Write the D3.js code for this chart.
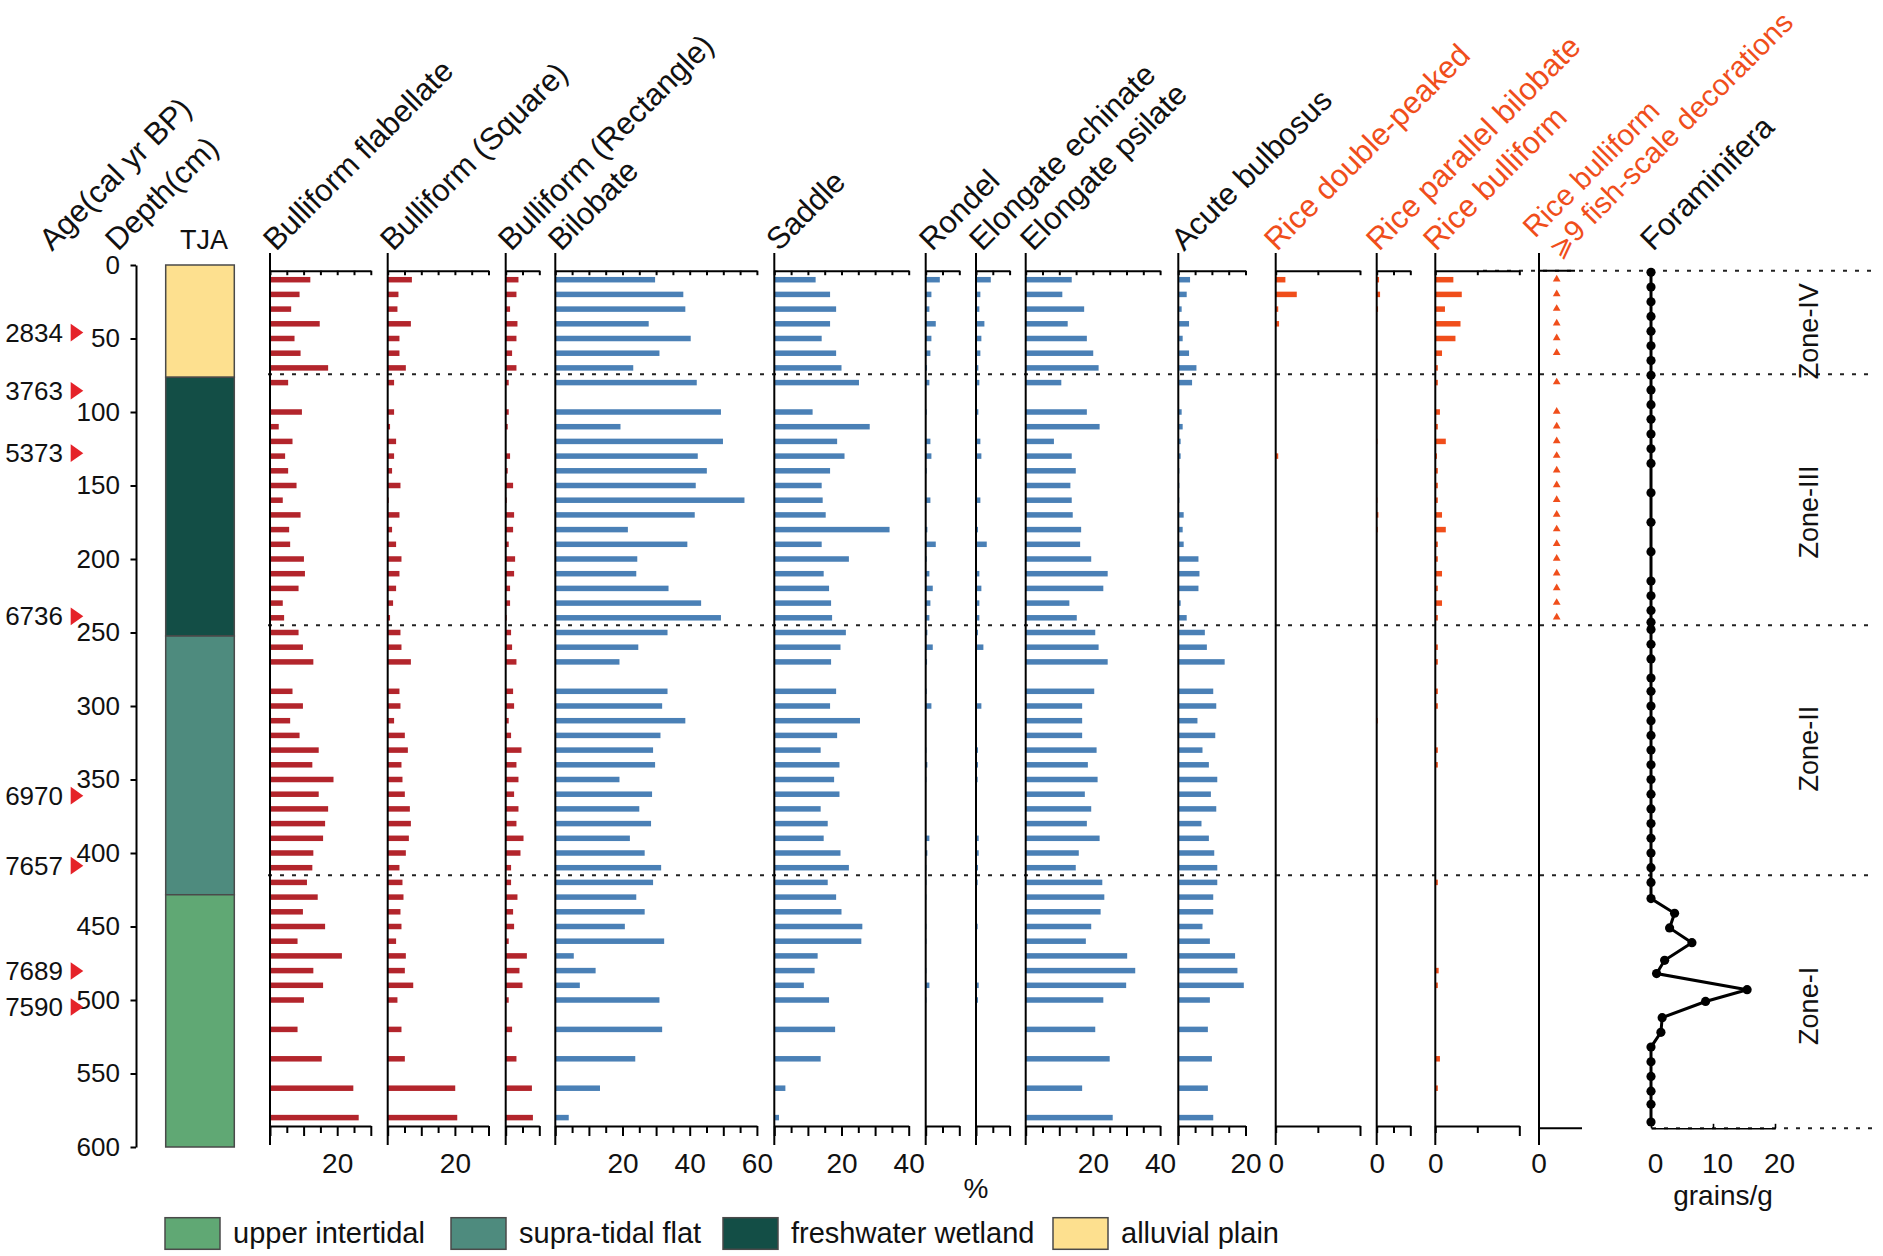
<!DOCTYPE html>
<html><head><meta charset="utf-8">
<script src="https://cdn.jsdelivr.net/npm/d3@7"></script>
<style>html,body{margin:0;padding:0;background:#fff}svg{display:block}</style>
</head><body><svg id="c"></svg>
<script>
// ---------------- DATA ----------------
const depths = [10,20,30,40,50,60,70,80,
 100,110,120,130,140,150,160,170,180,190,200,210,220,230,240,250,260,270,
 290,300,310,320,330,340,350,360,370,380,390,400,410,420,430,440,450,460,470,480,490,500,
 520,540,560,580];
const bulliformFlabellate = [12.0,8.8,6.3,14.8,7.3,9.1,17.3,5.4,
 9.5,2.6,6.7,4.5,5.4,7.9,3.8,9.1,5.7,6.0,10.1,10.4,8.5,3.8,4.2,8.5,9.8,12.9,
 6.7,9.8,6.0,8.8,14.5,12.6,18.9,14.5,17.3,16.4,15.8,12.9,12.6,11.0,14.2,9.8,16.4,8.2,21.4,12.9,15.8,10.1,
 8.2,15.4,24.8,26.4];
const bulliformSquare = [7.2,3.2,2.9,6.9,3.5,3.5,5.4,1.9,
 1.9,0.7,2.5,1.9,1.3,3.8,0.3,3.5,1.3,2.5,4.1,3.5,2.5,1.6,0.7,3.8,4.1,6.9,
 3.5,3.8,1.9,5.1,6.0,4.1,4.4,5.1,6.6,6.9,6.3,5.4,3.5,4.4,4.7,3.8,4.1,2.5,5.4,5.1,7.6,2.9,
 4.1,5.1,20.1,20.7];
const bulliformRectangle = [3.8,3.2,1.3,3.5,3.2,1.9,3.2,0.9,
 0.9,0.6,0,1.3,0.6,2.2,0.3,2.5,2.2,0.9,2.8,2.5,1.3,1.3,0.3,1.6,1.9,3.2,
 2.2,2.5,0.9,1.6,4.7,3.2,3.8,2.5,3.8,3.2,5.3,4.4,1.6,1.6,3.5,2.2,2.5,0.9,6.3,4.1,5.0,0.9,
 1.9,3.2,7.8,8.1];
const bilobate = [29.7,38.1,38.7,27.8,40.3,31.0,23.2,42.1,
 49.3,19.4,49.9,42.4,45.1,41.8,56.3,41.5,21.6,39.3,24.4,24.1,33.7,43.4,49.3,33.4,24.7,19.1,
 33.4,31.8,38.7,31.3,29.1,29.7,19.1,28.8,25.0,28.5,22.2,26.6,31.5,29.1,24.1,26.6,20.7,32.4,5.5,12.0,7.3,31.0,
 31.8,23.8,13.3,4.0];
const saddle = [12.3,16.6,18.4,16.6,14.1,18.4,20.0,25.2,
 11.4,28.4,18.7,20.9,16.6,14.1,14.4,15.3,34.3,14.1,22.2,14.7,16.3,16.9,17.2,21.3,19.7,16.9,
 18.4,16.6,25.5,18.7,13.8,19.4,17.8,19.4,13.8,15.9,14.7,19.7,22.2,15.9,18.4,20.0,26.2,25.9,12.9,12.0,8.8,16.3,
 18.1,13.8,3.3,1.4];
const rondel = [4.2,1.7,1.1,3.0,1.7,1.4,0.4,1.1,
 0.3,0,1.4,1.7,0.3,0,1.4,0,0.5,3.0,0.3,1.1,2.1,1.4,1.1,0.5,2.1,0.4,
 0.3,1.7,0,0,0.2,0.5,0.2,0,0,0,1.1,0.5,0.2,0.2,0.2,0,0.2,0.2,0,0.2,1.1,0.2,
 0,0,0,0];
const elongateEchinate = [4.4,1.3,1.0,2.5,1.6,1.3,0.7,1.0,
 0.7,0,1.3,1.6,0,0,1.3,0,0.6,3.2,0.3,1.0,1.6,1.0,1.0,0.6,2.2,0.2,
 0.3,1.6,0.2,0.2,0.6,0.6,0.5,0,0,0,0.8,0.8,0.6,0.5,0.2,0,0.5,0.2,0,0.2,0.8,0.6,
 0,0,0,0];
const elongatePsilate = [13.7,10.9,17.4,12.5,18.2,20.1,21.7,10.6,
 18.2,22.0,8.4,13.7,14.9,13.3,13.7,14.0,16.5,16.2,19.5,24.4,23.1,13.0,15.2,20.7,21.7,24.4,
 20.4,16.8,16.8,16.8,21.1,18.5,21.4,17.6,19.5,18.2,22.0,15.8,14.9,22.8,23.4,22.3,19.5,17.9,30.2,32.6,29.9,23.1,
 20.7,25.0,16.8,25.9];
const acuteBulbosus = [3.5,2.5,1.0,3.2,1.3,3.2,5.4,4.1,
 1.0,1.3,0.7,0.7,0.3,0.3,0.3,1.6,1.3,1.6,6.0,6.3,6.0,0.7,2.5,7.9,8.5,13.8,
 10.4,11.3,5.7,11.0,7.2,9.1,11.6,9.7,11.3,6.9,9.1,10.7,11.6,11.6,10.4,10.4,7.2,9.4,16.9,17.6,19.5,9.4,
 8.8,10.0,8.8,10.4];
const riceDoublePeaked = [0.23,0.50,0.06,0.08,0,0,0,0,
 0,0,0,0.06,0,0,0,0,0,0,0,0,0,0,0,0,0,0,
 0,0,0,0,0,0,0,0,0,0,0,0,0,0,0,0,0,0,0,0,0,0,
 0,0,0,0];
const riceParallelBilobate = [0.7,1.0,0.4,0,0,0,0,0,
 0,0,0.2,0,0,0,0.2,0.5,0.3,0,0,0,0,0,0,0,0,0,
 0,0,0.3,0,0,0,0,0,0,0,0,0,0,0,0,0,0,0,0,0,0,0,
 0,0,0,0];
const riceBulliform = [0.43,0.63,0.23,0.60,0.48,0.16,0.06,0.06,
 0.11,0.06,0.25,0.04,0.06,0.06,0.06,0.16,0.25,0.06,0.06,0.16,0.06,0.16,0.06,0,0.06,0.06,
 0.06,0.06,0,0,0.06,0.06,0,0,0,0,0,0,0,0.06,0,0,0,0,0,0.08,0.06,0,
 0,0.11,0.06,0];
const fishScaleDepths = [10,20,30,40,50,60,80,100,110,120,130,140,150,160,170,180,190,200,210,220,230,240];
const foramDepths = [5,15,25,35,45,55,65,75,85,95,105,115,125,135,155,175,195,215,225,235,243,248,258,268,281,290,300,
 310,320,330,340,350,360,370,380,390,400,410,420,431,441,451,461,473,482,493,501,512,522,532,542,552,562,571,583];
const foramValues = [0,0,0,0,0,0,0,0,0,0,0,0,0,0,0,0,0,0,0,0,0,0,0,0,0,0,0,
 0,0,0,0,0,0,0,0,0,0,0,0,0,3.8,3.0,6.6,2.2,0.9,15.5,8.8,1.8,1.6,0,0,0,0,0,0];
const ageLabels = ["2834","3763","5373","6736","6970","7657","7689","7590"];
const ageDepths = [46,85.5,128,239,361,408.6,480.3,504.8];
const depthTicks = [0,50,100,150,200,250,300,350,400,450,500,550,600];
const faciesNames = ["alluvial plain","freshwater wetland","supra-tidal flat","upper intertidal"];
const faciesTop = [0,76.4,252.4,428.4];
const faciesBottom = [76.4,252.4,428.4,600];
const legendOrder = ["upper intertidal","supra-tidal flat","freshwater wetland","alluvial plain"];
const zoneBoundaries = [74.4,245.1,415.2];
const zoneNames = ["Zone-IV","Zone-III","Zone-II","Zone-I"];
const zoneCenters = [45,168,329,504];

// ---------------- STYLE / LAYOUT ----------------
const W=1883,H=1256;
const RED="#B3252C", BLUE="#4A80B6", ORANGE="#F04E1B", TXT="#111";
const faciesColor = {"alluvial plain":"#FDE08F","freshwater wetland":"#134E46","supra-tidal flat":"#4E8B7E","upper intertidal":"#60A874"};
const FONT="'Liberation Sans', Arial, Helvetica, sans-serif";
const svg=d3.select("#c").attr("width",W).attr("height",H).attr("viewBox",`0 0 ${W} ${H}`)
  .style("font-family",FONT);
svg.append("rect").attr("width",W).attr("height",H).attr("fill","#fff");

const y=d3.scaleLinear().domain([0,600]).range([265,1147]);
const TOPY=270.7, BOTY=1126, VTOP=253, VBOT=1145, PX=3.36, BARH=5.5;
const HY=252, HDX=3;

const panels=[
 {name:"Bulliform flabellate", hx:273, x0:270, max:30, step:5, labels:[20], color:RED, values:bulliformFlabellate},
 {name:"Bulliform (Square)", hx:390, x0:387.7, max:30, step:5, labels:[20], color:RED, values:bulliformSquare},
 {name:"Bulliform (Rectangle)", hx:508, x0:505.7, max:10, step:5, labels:[], color:RED, values:bulliformRectangle},
 {name:"Bilobate", hx:558, x0:555.3, max:60, step:5, labels:[20,40,60], color:BLUE, values:bilobate},
 {name:"Saddle", hx:776, x0:774.3, max:40, step:5, labels:[20,40], color:BLUE, values:saddle},
 {name:"Rondel", hx:929, x0:925.7, max:10, step:5, labels:[], color:BLUE, values:rondel},
 {name:"Elongate echinate", hx:979, x0:976, max:10, step:5, labels:[], color:BLUE, values:elongateEchinate},
 {name:"Elongate psilate", hx:1030, x0:1025.7, max:40, step:5, labels:[20,40], color:BLUE, values:elongatePsilate},
 {name:"Acute bulbosus", hx:1181, x0:1178.3, max:20, step:5, labels:[20], color:BLUE, values:acuteBulbosus},
 {name:"Rice double-peaked", hx:1274, x0:1275.7, max:2, step:1, width:84.3, labels:[0], color:ORANGE, values:riceDoublePeaked, rice:true},
 {name:"Rice parallel bilobate", hx:1376, x0:1376.7, max:10, step:5, labels:[0], color:ORANGE, values:riceParallelBilobate, rice:true},
 {name:"Rice bulliform", hx:1433, x0:1435.3, max:2, step:1, width:84, labels:[0], color:ORANGE, values:riceBulliform, rice:true},
];

function header(x,yy,text,color){
  return svg.append("text").attr("transform",`translate(${x+HDX},${yy}) rotate(-45)`)
    .attr("font-size",31).attr("fill",color||TXT).text(text);
}

// dotted zone lines
const dot=svg.append("g").attr("stroke","#222").attr("stroke-width",2).attr("stroke-dasharray","4,8");
zoneBoundaries.forEach(z=>dot.append("line").attr("x1",268).attr("x2",1872).attr("y1",y(z)).attr("y2",y(z)));
dot.append("line").attr("x1",1483).attr("x2",1872).attr("y1",TOPY).attr("y2",TOPY);
dot.append("line").attr("x1",1652).attr("x2",1878).attr("y1",1128.3).attr("y2",1128.3);

// panels
panels.forEach(p=>{
  const x=d3.scaleLinear().domain([0,p.max]).range([p.x0,p.x0+(p.width||p.max*PX)]);
  const tv=d3.range(0,p.max+1e-9,p.step);
  const g=svg.append("g");
  g.selectAll("rect").data(depths.map((d,i)=>({d,v:p.values[i]})).filter(e=>e.v>0)).join("rect")
    .attr("x",p.x0).attr("y",e=>y(e.d)-BARH/2).attr("width",e=>x(e.v)-p.x0).attr("height",BARH)
    .attr("fill",p.color);
  g.append("line").attr("x1",p.x0).attr("x2",p.x0).attr("y1",VTOP).attr("y2",VBOT).attr("stroke","#000").attr("stroke-width",2);
  const ta=g.append("g").attr("transform",`translate(0,${TOPY})`)
    .call(d3.axisBottom(x).tickValues(tv).tickSize(4.5).tickSizeOuter(0).tickFormat(""));
  const ba=g.append("g").attr("transform",`translate(0,${BOTY})`)
    .call(d3.axisBottom(x).tickValues(tv).tickSize(7).tickSizeOuter(0).tickPadding(20)
      .tickFormat(d=>p.labels.includes(d)?d:""));
  ba.selectAll(".tick line").attr("y2",d=>{
     if(p.rice) return d===p.max?10:7;
     return (d%10===0)?10:7;});
  [ta,ba].forEach(a=>{a.selectAll("path,line").attr("stroke","#000").attr("stroke-width",2);
    a.selectAll("text").attr("font-size",28).attr("font-family",FONT).attr("fill",TXT);});
  header(p.hx,HY,p.name,p.rice?ORANGE:TXT);
});

// fish-scale panel
{
  const x0=1539;
  const g=svg.append("g");
  g.append("line").attr("x1",x0).attr("x2",x0).attr("y1",VTOP).attr("y2",VBOT).attr("stroke","#000").attr("stroke-width",2);
  g.append("line").attr("x1",x0).attr("x2",x0+36).attr("y1",TOPY).attr("y2",TOPY).attr("stroke","#000").attr("stroke-width",2);
  g.append("line").attr("x1",x0).attr("x2",x0+43).attr("y1",1128.3).attr("y2",1128.3).attr("stroke","#000").attr("stroke-width",2);
  g.append("text").attr("x",x0).attr("y",1173).attr("text-anchor","middle").attr("font-size",28).attr("fill",TXT).text("0");
  g.selectAll("path.tri").data(fishScaleDepths).join("path").attr("class","tri")
    .attr("d",d3.symbol(d3.symbolTriangle).size(26))
    .attr("transform",d=>`translate(${x0+17.7},${y(d)-0.5})`).attr("fill",ORANGE);
  const t=svg.append("text").attr("transform",`translate(1535,239) rotate(-45)`).attr("font-size",29.5).attr("fill",ORANGE);
  t.append("tspan").attr("x",0).attr("y",0).text("Rice bulliform");
  const l2=t.append("tspan").attr("x",3).attr("y",32);
  l2.append("tspan").attr("font-family","'DejaVu Sans', sans-serif").attr("font-size",27).text("⩾");
  l2.append("tspan").text("9 fish-scale decorations");
}

// foraminifera
{
  const x=d3.scaleLinear().domain([0,20]).range([1651,1775]);
  const g=svg.append("g");
  const ax=g.append("g").attr("transform","translate(0,1128.3)")
    .call(d3.axisBottom(x).tickValues([0,10,20]).tickSize(-4.5).tickSizeOuter(0).tickPadding(25));
  ax.selectAll("path,line").attr("stroke","#000").attr("stroke-width",1.6);
  ax.selectAll("text").attr("font-size",28).attr("font-family",FONT).attr("fill",TXT).attr("dx",4);
  const pts=foramDepths.map((d,i)=>[x(foramValues[i]),y(d)]);
  g.append("path").attr("d",d3.line()(pts)).attr("fill","none").attr("stroke","#000").attr("stroke-width",3);
  g.selectAll("circle").data(pts).join("circle").attr("cx",d=>d[0]).attr("cy",d=>d[1]).attr("r",4.6).attr("fill","#000");
  g.append("text").attr("x",1723).attr("y",1205).attr("text-anchor","middle").attr("font-size",28).attr("fill",TXT).text("grains/g");
  header(1650,HY,"Foraminifera");
}

svg.append("text").attr("x",976).attr("y",1198).attr("text-anchor","middle").attr("font-size",28).attr("fill",TXT).text("%");

// depth axis
{
  const ax=svg.append("g").attr("transform","translate(136,0)")
    .call(d3.axisLeft(y).tickValues(depthTicks).tickSize(5.5).tickSizeOuter(0).tickPadding(10.5));
  ax.selectAll("path,line").attr("stroke","#000").attr("stroke-width",2);
  ax.selectAll("text").attr("font-size",26).attr("font-family",FONT).attr("fill",TXT);
  header(49,HY,"Age(cal yr BP)");
  header(115,HY,"Depth(cm)");
  const ag=svg.append("g");
  ag.selectAll("path").data(ageDepths).join("path")
    .attr("d",d=>`M70.7,${y(d)-8.8}L83.3,${y(d)}L70.7,${y(d)+8.8}Z`).attr("fill","#E52229");
  ag.selectAll("text").data(ageLabels).join("text")
    .attr("x",63).attr("y",(d,i)=>y(ageDepths[i])+9).attr("text-anchor","end").attr("font-size",26).attr("fill",TXT).text(d=>d);
}

// TJA column
{
  const g=svg.append("g");
  g.selectAll("rect").data(faciesNames).join("rect")
    .attr("x",165.7).attr("width",68.6).attr("y",(d,i)=>y(faciesTop[i])).attr("height",(d,i)=>y(faciesBottom[i])-y(faciesTop[i]))
    .attr("fill",d=>faciesColor[d]).attr("stroke","#4a4a4a").attr("stroke-width",1.5);
  g.append("text").attr("x",204).attr("y",249).attr("text-anchor","middle").attr("font-size",27).attr("fill",TXT).text("TJA");
}

zoneNames.forEach((z,i)=>{
  svg.append("text").attr("transform",`translate(1818,${y(zoneCenters[i])}) rotate(-90)`)
    .attr("text-anchor","middle").attr("font-size",27).attr("fill",TXT).text(z);
});

// legend
{
  const bx=[165,451,723,1053];
  const g=svg.append("g");
  legendOrder.forEach((n,i)=>{
    g.append("rect").attr("x",bx[i]).attr("y",1217.7).attr("width",55).attr("height",31.6)
      .attr("fill",faciesColor[n]).attr("stroke","#4a4a4a").attr("stroke-width",1.5);
    g.append("text").attr("x",bx[i]+68).attr("y",1243).attr("font-size",29).attr("fill",TXT).text(n);
  });
}
</script></body></html>
